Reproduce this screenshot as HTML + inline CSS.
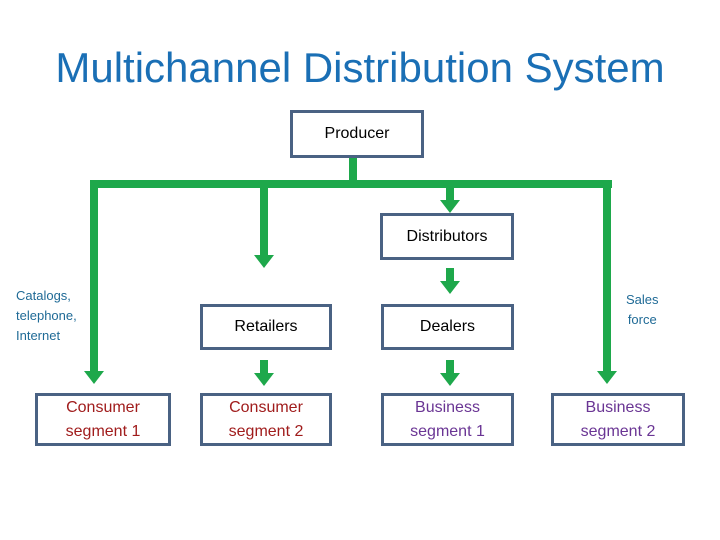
<!DOCTYPE html>
<html><head><style>
body{margin:0;width:720px;height:540px;background:#fff;position:relative;overflow:hidden;font-family:"Liberation Sans",sans-serif}
.t{position:absolute;left:0;width:720px;top:44px;text-align:center;font-size:42px;color:#1a6fb5}
.b{position:absolute;box-sizing:border-box;border:3px solid #4a6283;display:flex;align-items:center;justify-content:center;text-align:center;font-size:16px;line-height:24px}
.l{position:absolute;font-size:13px;color:#1f6a96;line-height:20px}
</style></head><body>
<div class="t">Multichannel Distribution System</div>
<svg width="720" height="540" style="position:absolute;left:0;top:0">
<g fill="#1ea84b">
<rect x="349" y="158" width="8" height="28"/>
<rect x="90" y="180" width="522" height="8"/>
<rect x="90" y="180" width="8" height="192"/><polygon points="84,371 104,371 94,384"/>
<rect x="260" y="180" width="8" height="76"/><polygon points="254,255 274,255 264,268"/>
<rect x="446" y="180" width="8" height="21"/><polygon points="440,200 460,200 450,213"/>
<rect x="603" y="180" width="8" height="192"/><polygon points="597,371 617,371 607,384"/>
<rect x="446" y="268" width="8" height="14"/><polygon points="440,281 460,281 450,294"/>
<rect x="260" y="360" width="8" height="14"/><polygon points="254,373 274,373 264,386"/>
<rect x="446" y="360" width="8" height="14"/><polygon points="440,373 460,373 450,386"/>
</g></svg>
<div class="b" style="left:290px;top:110px;width:134px;height:48px">Producer</div>
<div class="b" style="left:380px;top:213px;width:134px;height:47px">Distributors</div>
<div class="b" style="left:200px;top:304px;width:132px;height:46px">Retailers</div>
<div class="b" style="left:381px;top:304px;width:133px;height:46px">Dealers</div>
<div class="b" style="left:35px;top:393px;width:136px;height:53px;color:#a01c1c">Consumer<br>segment 1</div>
<div class="b" style="left:200px;top:393px;width:132px;height:53px;color:#a01c1c">Consumer<br>segment 2</div>
<div class="b" style="left:381px;top:393px;width:133px;height:53px;color:#6a3594">Business<br>segment 1</div>
<div class="b" style="left:551px;top:393px;width:134px;height:53px;color:#6a3594">Business<br>segment 2</div>
<div class="l" style="left:16px;top:286px">Catalogs,<br>telephone,<br>Internet</div>
<div class="l" style="left:626px;top:290px;text-align:center">Sales<br>force</div>
</body></html>
